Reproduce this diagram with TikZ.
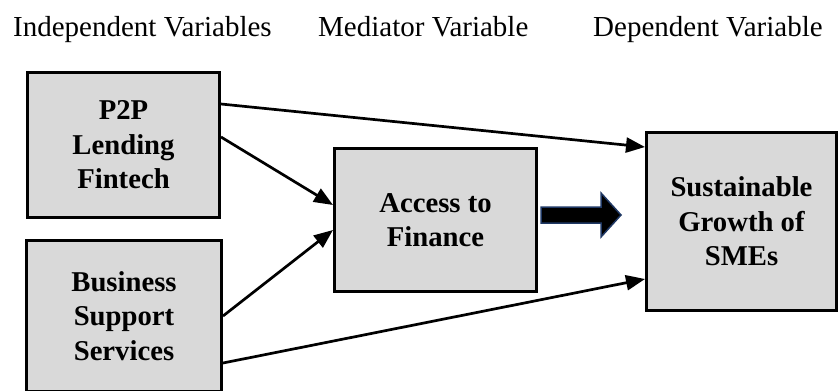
\documentclass[tikz,border=0pt]{standalone}
\usepackage{fontspec}
\setmainfont{Liberation Serif}
\usetikzlibrary{arrows.meta}
\definecolor{boxgray}{HTML}{D9D9D9}
\definecolor{navyedge}{HTML}{1F3864}
\tikzset{
  varbox/.style={draw=black, line width=3pt, fill=boxgray, align=center, inner sep=0pt,
    font=\fontsize{28.7}{34.5}\selectfont\bfseries},
  headtxt/.style={anchor=base west, inner sep=0pt, font=\fontsize{29}{34}\selectfont},
  link/.style={line width=2.7pt, -{Triangle[length=19pt,width=15pt]}},
  blockarrow/.style={draw=navyedge, fill=black, line width=1.5pt, line join=miter}
}
\begin{document}
\begin{tikzpicture}[x=1pt,y=-1pt]
\useasboundingbox (0,0) rectangle (839,391);
\fill[white] (0,0) rectangle (839,391);
% headers
\node[headtxt] (hi) at (13,36) {Independent Variables};
\node[headtxt] (hm) at (318,36) {Mediator Variable};
\node[headtxt] (hd) at (593,36) {Dependent Variable};
% boxes
\node[varbox, minimum width=192pt, minimum height=145pt] (p2p) at (123.5,145) {P2P\\Lending\\Fintech};
\node[varbox, minimum width=195pt, minimum height=151pt] (bus) at (124,316) {Business\\Support\\Services};
\node[varbox, minimum width=202pt, minimum height=143pt] (acc) at (435.5,220) {Access to\\Finance};
\node[varbox, minimum width=190pt, minimum height=178pt] (sme) at (741.5,221.5) {Sustainable\\Growth of\\SMEs};
% block arrow from Access to Finance towards Sustainable Growth
\coordinate (blkstart) at ([xshift=3pt,yshift=5pt]acc.east);
\draw[blockarrow] (blkstart) ++(0,-8) -- ++(60,0) -- ++(0,-14) -- ++(20,22) -- ++(-20,22) -- ++(0,-14) -- ++(-60,0) -- cycle;
% connectors
\draw[link] ([yshift=41pt]p2p.east) -- ([yshift=74.5pt]sme.west);
\draw[link] ([yshift=8pt]p2p.east) -- ([yshift=15pt]acc.west);
\draw[link] (bus.east) -- ([yshift=-10pt]acc.west);
\draw[link] ([yshift=-47pt]bus.east) -- ([yshift=-57.5pt]sme.west);
\end{tikzpicture}
\end{document}
